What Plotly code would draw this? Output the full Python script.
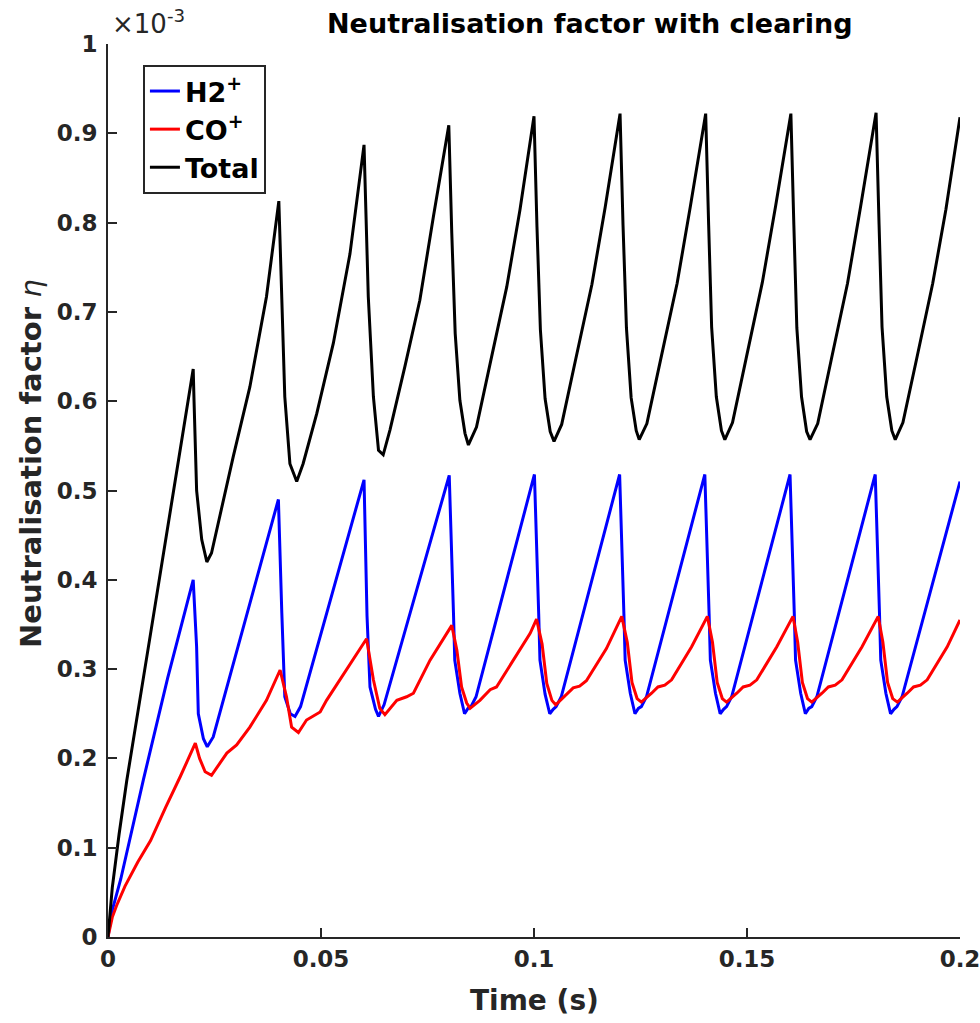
import plotly.graph_objects as go

# Values are in units of 1e-3 (axis shows "x10^-3")
t_total = [0, 0.001, 0.0026, 0.0044, 0.010, 0.015, 0.020,
           0.0202, 0.0208, 0.0220, 0.0232, 0.0243, 0.0255, 0.0294, 0.0333, 0.0372, 0.0401,
           0.0408, 0.0415, 0.0427, 0.0443, 0.0458, 0.0490, 0.0529, 0.0568, 0.0601,
           0.0611, 0.0623, 0.0635, 0.0646, 0.0662, 0.0697, 0.0732, 0.0764, 0.0800,
           0.0807, 0.0815, 0.0826, 0.0838, 0.0846, 0.0865, 0.0897, 0.0936, 0.0967, 0.1000,
           0.1007, 0.1015, 0.1026, 0.1038, 0.1047, 0.1065, 0.1097, 0.1136, 0.1167, 0.1202,
           0.1209, 0.1217, 0.1228, 0.1240, 0.1247, 0.1265, 0.1297, 0.1336, 0.1367, 0.1403,
           0.1410, 0.1417, 0.1428, 0.1440, 0.1448, 0.1466, 0.1498, 0.1536, 0.1567, 0.1603,
           0.1610, 0.1617, 0.1628, 0.1640, 0.1648, 0.1666, 0.1698, 0.1736, 0.1767, 0.1803,
           0.1810, 0.1817, 0.1828, 0.1840, 0.1848, 0.1866, 0.1898, 0.1936, 0.1967, 0.2000]
eta_total = [0, 0.055, 0.115, 0.175, 0.340, 0.490, 0.636,
             0.600, 0.500, 0.445, 0.420, 0.430, 0.456, 0.538, 0.616, 0.717, 0.824,
             0.717, 0.605, 0.530, 0.510, 0.530, 0.586, 0.665, 0.765, 0.887,
             0.717, 0.605, 0.545, 0.540, 0.568, 0.639, 0.713, 0.807, 0.909,
             0.788, 0.676, 0.601, 0.564, 0.551, 0.571, 0.642, 0.728, 0.814, 0.919,
             0.795, 0.680, 0.603, 0.566, 0.555, 0.574, 0.645, 0.731, 0.817, 0.922,
             0.797, 0.682, 0.604, 0.567, 0.557, 0.575, 0.646, 0.732, 0.818, 0.922,
             0.797, 0.683, 0.605, 0.567, 0.557, 0.576, 0.648, 0.733, 0.818, 0.922,
             0.797, 0.682, 0.605, 0.566, 0.557, 0.575, 0.647, 0.732, 0.819, 0.923,
             0.798, 0.683, 0.605, 0.567, 0.557, 0.576, 0.647, 0.732, 0.815, 0.918]

t_h2 = [0, 0.001, 0.003, 0.0083, 0.014, 0.020,
        0.0208, 0.0212, 0.0224, 0.0233, 0.0247, 0.0400,
        0.0408, 0.0415, 0.0428, 0.0439, 0.0452, 0.0601,
        0.0608, 0.0615, 0.0628, 0.0635, 0.0648, 0.0801,
        0.0811, 0.0814, 0.0826, 0.0837, 0.0845, 0.0852, 0.0864, 0.1001,
        0.1011, 0.1014, 0.1026, 0.1037, 0.1045, 0.1052, 0.1064, 0.1201,
        0.1211, 0.1214, 0.1226, 0.1237, 0.1245, 0.1252, 0.1264, 0.1401,
        0.1411, 0.1414, 0.1426, 0.1437, 0.1445, 0.1452, 0.1464, 0.1601,
        0.1611, 0.1614, 0.1626, 0.1637, 0.1645, 0.1652, 0.1664, 0.1801,
        0.1811, 0.1814, 0.1826, 0.1837, 0.1845, 0.1852, 0.1864, 0.2000]
eta_h2 = [0, 0.030, 0.065, 0.176, 0.290, 0.400,
          0.325, 0.250, 0.222, 0.213, 0.224, 0.490,
          0.363, 0.269, 0.250, 0.247, 0.258, 0.512,
          0.360, 0.280, 0.255, 0.247, 0.260, 0.517,
          0.362, 0.310, 0.273, 0.250, 0.256, 0.258, 0.269, 0.518,
          0.362, 0.310, 0.272, 0.250, 0.255, 0.258, 0.269, 0.518,
          0.362, 0.310, 0.273, 0.250, 0.256, 0.258, 0.269, 0.518,
          0.362, 0.310, 0.273, 0.250, 0.255, 0.258, 0.269, 0.518,
          0.362, 0.310, 0.273, 0.250, 0.256, 0.258, 0.269, 0.518,
          0.362, 0.310, 0.273, 0.250, 0.255, 0.258, 0.269, 0.510]

t_co = [0, 0.0005, 0.001, 0.002, 0.004, 0.007, 0.010, 0.0135, 0.017, 0.0205,
        0.0215, 0.0228, 0.0243, 0.0279, 0.0302, 0.0333, 0.0372, 0.0404,
        0.0419, 0.0431, 0.0447, 0.0466, 0.0498, 0.0513, 0.0560, 0.0607,
        0.0623, 0.0638, 0.0650, 0.0678, 0.0701, 0.0717, 0.0756, 0.0795, 0.0807,
        0.0819, 0.0830, 0.0842, 0.0850, 0.0873, 0.0897, 0.0912, 0.0951, 0.0991, 0.1006,
        0.1019, 0.1030, 0.1042, 0.1051, 0.1075, 0.1092, 0.1107, 0.1123, 0.1170, 0.1206,
        0.1219, 0.1230, 0.1242, 0.1252, 0.1276, 0.1291, 0.1307, 0.1323, 0.1370, 0.1407,
        0.1419, 0.1430, 0.1442, 0.1452, 0.1476, 0.1491, 0.1507, 0.1523, 0.1570, 0.1608,
        0.1619, 0.1630, 0.1642, 0.1652, 0.1676, 0.1691, 0.1707, 0.1723, 0.1770, 0.1808,
        0.1819, 0.1830, 0.1842, 0.1853, 0.1876, 0.1891, 0.1907, 0.1923, 0.1970, 0.2000]
eta_co = [0, 0.013, 0.022, 0.035, 0.057, 0.084, 0.108, 0.145, 0.180, 0.217,
          0.200, 0.185, 0.181, 0.206, 0.215, 0.235, 0.265, 0.299,
          0.269, 0.235, 0.229, 0.243, 0.252, 0.265, 0.299, 0.334,
          0.288, 0.256, 0.249, 0.265, 0.269, 0.273, 0.310, 0.340, 0.349,
          0.321, 0.280, 0.262, 0.256, 0.265, 0.277, 0.280, 0.310, 0.340, 0.356,
          0.328, 0.284, 0.265, 0.260, 0.271, 0.279, 0.281, 0.287, 0.323, 0.359,
          0.330, 0.285, 0.267, 0.263, 0.273, 0.280, 0.282, 0.288, 0.325, 0.359,
          0.330, 0.285, 0.267, 0.263, 0.273, 0.280, 0.282, 0.288, 0.325, 0.359,
          0.330, 0.285, 0.267, 0.263, 0.273, 0.280, 0.282, 0.288, 0.325, 0.359,
          0.330, 0.285, 0.267, 0.263, 0.273, 0.280, 0.282, 0.288, 0.325, 0.355]

x_tickvals = [0, 0.05, 0.1, 0.15, 0.2]
x_ticktext = ["0", "0.05", "0.1", "0.15", "0.2"]
y_tickvals = [0, 0.1, 0.2, 0.3, 0.4, 0.5, 0.6, 0.7, 0.8, 0.9, 1.0]
y_ticktext = ["0", "0.1", "0.2", "0.3", "0.4", "0.5", "0.6", "0.7", "0.8", "0.9", "1"]

FONT = "DejaVu Sans"
AX = "#262626"

fig = go.Figure()
fig.add_trace(go.Scatter(x=t_h2, y=eta_h2, mode="lines", name="<b>H2<sup>+</sup></b>",
                         line=dict(color="#0000ff", width=3)))
fig.add_trace(go.Scatter(x=t_co, y=eta_co, mode="lines", name="<b>CO<sup>+</sup></b>",
                         line=dict(color="#ff0000", width=3)))
fig.add_trace(go.Scatter(x=t_total, y=eta_total, mode="lines", name="<b>Total</b>",
                         line=dict(color="#000000", width=3)))

W, H = 980, 1023
L, R, T, B = 108, 20, 44, 86

fig.update_layout(
    width=W, height=H,
    margin=dict(l=L, r=R, t=T, b=B, autoexpand=False),
    paper_bgcolor="white", plot_bgcolor="white",
    font=dict(family=FONT, color="black"),
    showlegend=True,
    legend=dict(x=0.041, y=0.9765, xanchor="left", yanchor="top",
                bordercolor=AX, borderwidth=2, bgcolor="white",
                font=dict(family=FONT, size=27, color="black"),
                itemwidth=30, tracegroupgap=0),
    xaxis=dict(range=[0, 0.2], tickvals=x_tickvals, ticktext=x_ticktext, automargin=False,
               ticklabeloverflow="allow",
               showgrid=False, zeroline=False, showline=True, linecolor=AX, linewidth=2,
               ticks="inside", ticklen=9, tickwidth=2, tickcolor=AX,
               tickfont=dict(family=FONT, size=23, color=AX, weight="bold"),
               mirror=False),
    yaxis=dict(range=[0, 1.0], tickvals=y_tickvals, ticktext=y_ticktext, automargin=False,
               ticklabeloverflow="allow",
               showgrid=False, zeroline=False, showline=True, linecolor=AX, linewidth=2,
               ticks="inside", ticklen=9, tickwidth=2, tickcolor=AX,
               tickfont=dict(family=FONT, size=23, color=AX, weight="bold"),
               ticklabelstandoff=4, mirror=False),
)

def px_x(p):
    return (p - L) / (W - L - R)

def px_y(p):
    return (H - B - p) / (H - T - B)

annotations = [
    dict(text="<b>Neutralisation factor with clearing</b>", x=px_x(590), y=px_y(24),
         xanchor="center", yanchor="middle", font=dict(family=FONT, size=27, color="black")),
    dict(text="×10<sup>-3</sup>", x=px_x(110), y=px_y(22),
         xanchor="left", yanchor="middle", font=dict(family=FONT, size=26, color=AX)),
    dict(text="<b>Time (s)</b>", x=px_x(534), y=px_y(1000),
         xanchor="center", yanchor="middle", font=dict(family=FONT, size=28, color=AX)),
    dict(text="<b>Neutralisation factor</b> <i>η</i>", x=px_x(31), y=px_y(464),
         xanchor="center", yanchor="middle", textangle=-90,
         font=dict(family=FONT, size=29, color=AX)),
]
for a in annotations:
    a.update(xref="paper", yref="paper", showarrow=False)
fig.update_layout(annotations=annotations)

fig.write_html("out.html")
